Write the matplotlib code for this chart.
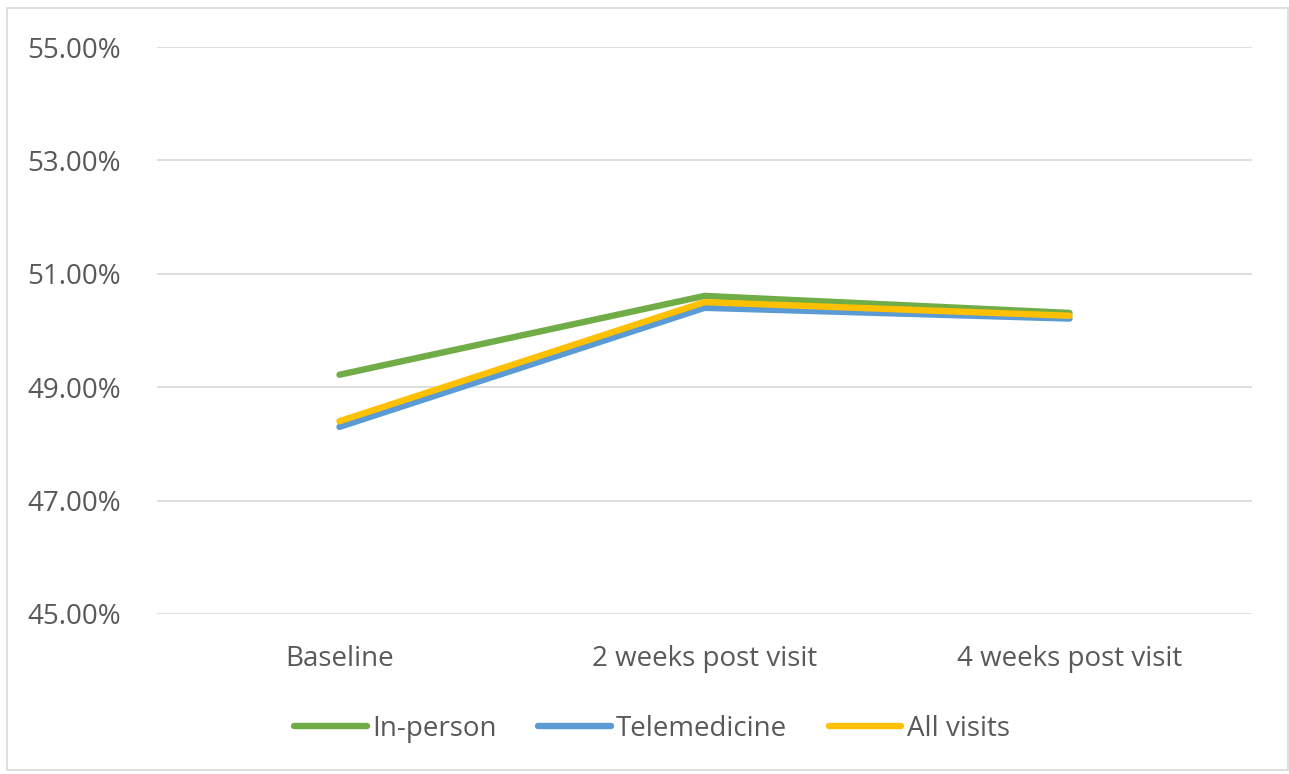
import matplotlib.pyplot as plt
from matplotlib.patches import Rectangle
from matplotlib.ticker import FuncFormatter

categories = ["Baseline", "2 weeks post visit", "4 weeks post visit"]
in_person = [49.22, 50.61, 50.31]
telemedicine = [48.30, 50.40, 50.21]
all_visits = [48.40, 50.50, 50.26]

plt.rcParams['font.family'] = ['Open Sans', 'DejaVu Sans']
text_color = '#595959'

fig = plt.figure(figsize=(12.89, 7.74), dpi=100)
ax = fig.add_axes([157 / 1289, 1 - 614 / 774, 1095 / 1289, 567 / 774])

x = range(len(categories))
ax.plot(x, in_person, color='#70AD47', lw=4.6, solid_capstyle='round', label='In-person')
ax.plot(x, telemedicine, color='#5B9BD5', lw=4.6, solid_capstyle='round', label='Telemedicine')
ax.plot(x, all_visits, color='#FFC000', lw=4.6, solid_capstyle='round', label='All visits')

ax.set_xlim(-0.5, 2.5)
ax.set_ylim(45, 55)
ax.set_yticks([45, 47, 49, 51, 53, 55])
ax.yaxis.set_major_formatter(FuncFormatter(lambda v, p: f"{v:.2f}%"))
ax.set_xticks(list(x))
ax.set_xticklabels(categories)
ax.grid(axis='y', color='#D9D9D9', lw=1.2)
ax.set_axisbelow(True)
for s in ax.spines.values():
    s.set_visible(False)
ax.tick_params(length=0, labelsize=20, colors=text_color)
ax.tick_params(axis='y', pad=26)
ax.tick_params(axis='x', pad=22)

leg = fig.legend(loc='center', bbox_to_anchor=(652 / 1289, 1 - 729 / 774), ncol=3,
                 frameon=False, fontsize=20, handlelength=2.6, handletextpad=0.2,
                 columnspacing=1.5)
for t in leg.get_texts():
    t.set_color(text_color)

fig.patches.append(Rectangle((7 / 1289, 4 / 774), 1 - 8 / 1289, 1 - 12 / 774,
                             transform=fig.transFigure, fill=False,
                             edgecolor='#D9D9D9', lw=1.2))

fig.savefig('out.png', dpi=100)
